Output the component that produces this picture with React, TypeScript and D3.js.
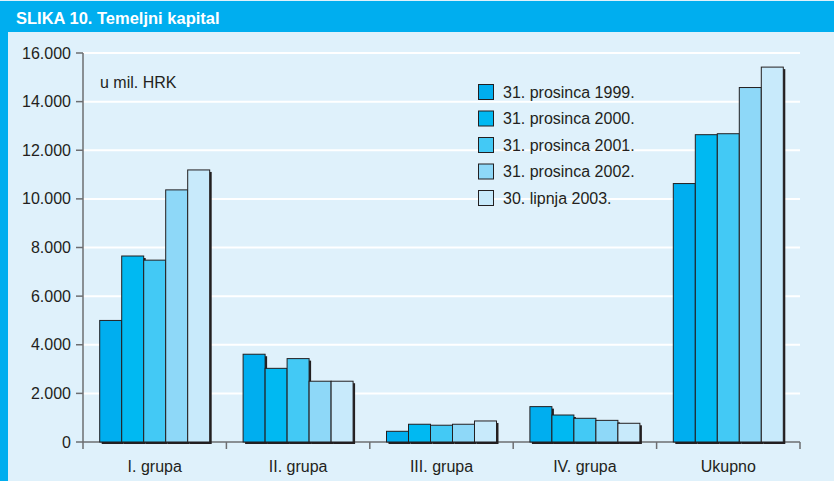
import React from "react";
import * as d3 from "d3";

// Data
const categories = ["I. grupa", "II. grupa", "III. grupa", "IV. grupa", "Ukupno"];
const seriesNames = [
  "31. prosinca 1999.",
  "31. prosinca 2000.",
  "31. prosinca 2001.",
  "31. prosinca 2002.",
  "30. lipnja 2003.",
];
// one array per category, values per series (mil. HRK)
const grupa1 = [5000, 7650, 7480, 10370, 11190];
const grupa2 = [3610, 3030, 3430, 2500, 2500];
const grupa3 = [440, 730, 690, 730, 865];
const grupa4 = [1455, 1110, 975, 890, 770];
const ukupno = [10630, 12640, 12680, 14580, 15420];
const values = [grupa1, grupa2, grupa3, grupa4, ukupno];
const yTicks = [0, 2000, 4000, 6000, 8000, 10000, 12000, 14000, 16000];

const colors = ["#00aeef", "#00b9f2", "#43c9f5", "#8ed8f8", "#c8eafb"];
const ink = "#231f20";
const font = "'Liberation Sans', Arial, sans-serif";

const fmt = d3
  .formatLocale({ decimal: ",", thousands: ".", grouping: [3], currency: ["", ""] })
  .format(",");

const App = () => {
  const width = 834;
  const height = 481;

  // Dimensions
  const plot = { left: 83, right: 800, top: 53, bottom: 442 };

  // Scales
  const yScale = d3.scaleLinear().domain([0, 16000]).range([plot.bottom, plot.top]);
  const xScale = d3
    .scaleBand()
    .domain(categories)
    .range([plot.left, plot.right])
    .paddingInner(0.233)
    .paddingOuter(0.1165);
  const xInner = d3
    .scaleBand()
    .domain(seriesNames)
    .range([0, xScale.bandwidth()]);

  const step = xScale.step();
  const catTicks = d3.range(categories.length + 1).map((i) => plot.left + i * step);

  return (
    <div style={{ position: "fixed", left: 0, top: 0 }}>
      <svg width={width} height={height} style={{ display: "block", fontFamily: font }}>
        {/* background + frame */}
        <rect x={0} y={0} width={width} height={height} fill="#dff1fb" />
        <rect x={0} y={1} width={width} height={31} fill="#00aeef" />
        <rect x={0} y={1} width={8} height={height} fill="#00aeef" />
        <text x={16} y={23.5} fill="#ffffff" fontSize={16.5} fontWeight="bold">
          SLIKA 10. Temeljni kapital
        </text>

        {/* grid */}
        {yTicks.slice(1).map((t) => (
          <line
            key={"g" + t}
            x1={plot.left}
            x2={plot.right}
            y1={yScale(t)}
            y2={yScale(t)}
            stroke="#ffffff"
            strokeWidth={2}
          />
        ))}

        {/* y axis */}
        <line x1={plot.left} x2={plot.left} y1={plot.top} y2={plot.bottom + 7} stroke="#6d6e71" strokeWidth={1.5} />
        {yTicks.map((t) => (
          <g key={"t" + t}>
            <line x1={plot.left - 7} x2={plot.left} y1={yScale(t)} y2={yScale(t)} stroke="#6d6e71" strokeWidth={1.5} />
            <text x={71} y={yScale(t)} dy="0.35em" textAnchor="end" fontSize={16} fill={ink}>
              {fmt(t)}
            </text>
          </g>
        ))}

        {/* x axis */}
        <line x1={plot.left} x2={plot.right} y1={plot.bottom} y2={plot.bottom} stroke="#6d6e71" strokeWidth={1.5} />
        {catTicks.slice(1).map((x, i) => (
          <line key={"c" + i} x1={x} x2={x} y1={plot.bottom} y2={plot.bottom + 7} stroke="#6d6e71" strokeWidth={1.5} />
        ))}
        {categories.map((c) => (
          <text
            key={"l" + c}
            x={(xScale(c) as number) + xScale.bandwidth() / 2}
            y={472}
            textAnchor="middle"
            fontSize={16}
            fill={ink}
          >
            {c}
          </text>
        ))}

        {/* bars: shadow then bar, in order */}
        {categories.map((c, ci) => (
          <g key={"b" + c} transform={`translate(${xScale(c)},0)`}>
            {values[ci].map((v, si) => {
              const x = xInner(seriesNames[si]) as number;
              const y = yScale(v);
              const h = plot.bottom - y;
              return (
                <g key={si}>
                  <rect x={x + 2} y={y + 2} width={xInner.bandwidth()} height={h} fill={ink} />
                  <rect
                    x={x}
                    y={y}
                    width={xInner.bandwidth()}
                    height={h}
                    fill={colors[si]}
                    stroke={ink}
                    strokeWidth={1}
                  />
                </g>
              );
            })}
          </g>
        ))}

        {/* unit label */}
        <text x={100} y={88} fontSize={16} fill={ink}>
          u mil. HRK
        </text>

        {/* legend */}
        {seriesNames.map((s, i) => {
          const cy = 92 + i * 26.5;
          return (
            <g key={"lg" + s}>
              <rect x={478.5} y={cy - 7.5} width={15} height={15} fill={colors[i]} stroke={ink} strokeWidth={1} />
              <text x={503} y={cy} dy="0.35em" fontSize={16} fill={ink}>
                {s}
              </text>
            </g>
          );
        })}
      </svg>
    </div>
  );
};

export default App;
